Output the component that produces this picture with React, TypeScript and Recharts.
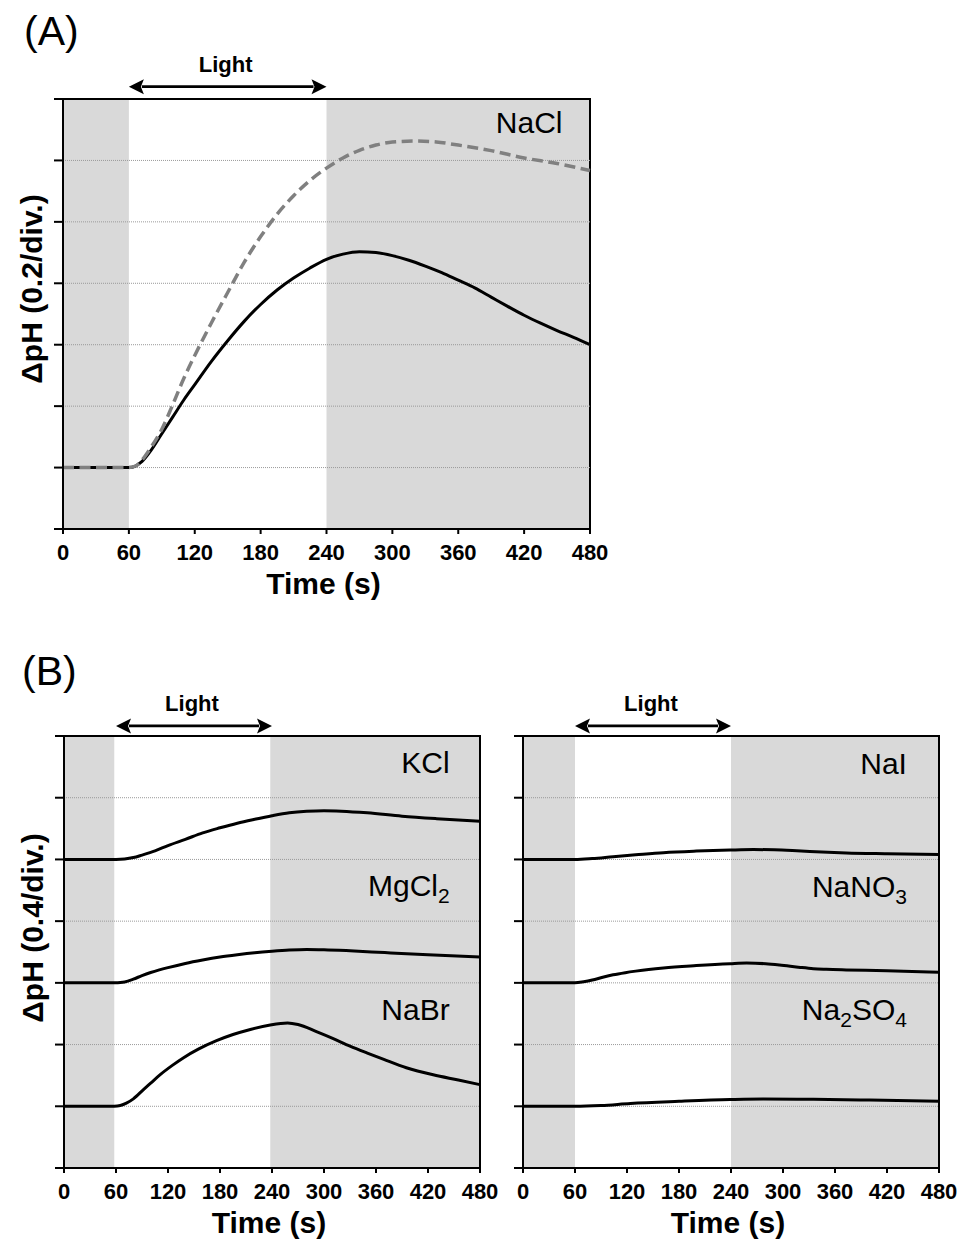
import React from 'react';
import {
  LineChart,
  Line,
  XAxis,
  YAxis,
  ReferenceArea,
  ReferenceLine,
  ReferenceDot,
} from 'recharts';

const FONT = '"Liberation Sans", Arial, Helvetica, sans-serif';

// ---------- shared axis values ----------
const timeTicks = [0, 60, 120, 180, 240, 300, 360, 420, 480];
const lightOn = 60;
const lightOff = 240;

// ---------- Panel A (0.2 pH / div) ----------
const aTicks = [-0.2, 0, 0.2, 0.4, 0.6, 0.8, 1.0, 1.2];

const naclSolidTime = [0, 30, 60, 66, 72, 80, 90, 100, 110, 120, 135, 150, 165, 180, 195, 210, 225, 240, 255, 270, 285, 300, 315, 330, 345, 360, 375, 390, 405, 420, 435, 450, 465, 480];
const naclSolidVal = [0, 0, 0, 0.005, 0.02, 0.055, 0.11, 0.165, 0.22, 0.27, 0.345, 0.413, 0.476, 0.531, 0.578, 0.617, 0.65, 0.678, 0.695, 0.703, 0.7, 0.69, 0.675, 0.656, 0.635, 0.61, 0.585, 0.555, 0.525, 0.496, 0.47, 0.446, 0.424, 0.4];

const naclDashTime = [0, 30, 60, 66, 72, 80, 90, 100, 110, 120, 135, 150, 165, 180, 195, 210, 225, 240, 255, 270, 285, 300, 320, 340, 360, 390, 420, 450, 480];
const naclDashVal = [0, 0, 0, 0.005, 0.025, 0.065, 0.125, 0.205, 0.29, 0.365, 0.47, 0.57, 0.668, 0.752, 0.825, 0.885, 0.935, 0.975, 1.008, 1.033, 1.05, 1.06, 1.063, 1.06, 1.05, 1.032, 1.008, 0.99, 0.967];

// ---------- Panel B (0.4 pH / div) ----------
const bTicks = [-0.4, 0, 0.4, 0.8, 1.2, 1.6, 2.0, 2.4];
const bOffsets = [1.6, 0.8, 0];

const kclTime = [0, 30, 60, 70, 80, 90, 105, 120, 140, 160, 180, 200, 220, 240, 260, 280, 300, 320, 350, 390, 430, 480];
const kclVal = [0, 0, 0, 0.003, 0.012, 0.028, 0.055, 0.09, 0.13, 0.172, 0.205, 0.235, 0.26, 0.283, 0.302, 0.312, 0.316, 0.313, 0.302, 0.28, 0.264, 0.248];

const mgcl2Time = [0, 30, 60, 65, 70, 80, 90, 100, 110, 120, 140, 160, 180, 200, 220, 240, 260, 280, 300, 330, 370, 420, 480];
const mgcl2Val = [0, 0, 0, 0.002, 0.006, 0.024, 0.047, 0.067, 0.084, 0.099, 0.126, 0.148, 0.167, 0.182, 0.195, 0.205, 0.213, 0.217, 0.215, 0.208, 0.196, 0.182, 0.168];

const nabrTime = [0, 30, 58, 65, 72, 80, 92, 100, 111, 125, 138, 155, 176, 195, 215, 238, 250, 258, 270, 292, 310, 330, 350, 369, 395, 426, 455, 480];
const nabrVal = [0, 0, 0, 0.005, 0.02, 0.048, 0.11, 0.15, 0.205, 0.265, 0.315, 0.37, 0.425, 0.465, 0.498, 0.527, 0.537, 0.54, 0.53, 0.482, 0.44, 0.39, 0.345, 0.304, 0.25, 0.204, 0.17, 0.14];

const naiTime = [0, 30, 60, 80, 104, 130, 162, 200, 239, 266, 290, 316, 345, 373, 420, 480];
const naiVal = [0, 0, 0, 0.006, 0.018, 0.03, 0.044, 0.054, 0.061, 0.064, 0.062, 0.056, 0.048, 0.042, 0.037, 0.032];

const nano3Time = [0, 30, 60, 70, 80, 92, 104, 118, 130, 145, 162, 200, 239, 258, 280, 296, 320, 335, 350, 373, 420, 480];
const nano3Val = [0, 0, 0, 0.007, 0.018, 0.036, 0.052, 0.066, 0.076, 0.087, 0.097, 0.112, 0.124, 0.128, 0.124, 0.116, 0.1, 0.092, 0.088, 0.084, 0.078, 0.068];

const na2so4Time = [0, 30, 60, 90, 124, 180, 239, 277, 335, 400, 480];
const na2so4Val = [0, 0, 0, 0.005, 0.018, 0.032, 0.044, 0.048, 0.045, 0.04, 0.033];

const mk = (ts: number[], vs: number[], off = 0) =>
  ts.map((t, i) => ({ t, v: vs[i] + off }));

type Part = { text: string; sub?: boolean };
type SeriesDef = { data: { t: number; v: number }[]; stroke: string; width: number; dash?: string };
type LabelDef = { x: number; y: number; parts: Part[] };

const gridStyle = { stroke: '#9a9a9a', strokeWidth: 1, strokeDasharray: '1 1' };
const GRAY = '#d9d9d9';

function saltLabel(parts: Part[]) {
  return (p: any) => {
    let prevSub = false;
    return (
      <text x={p.cx} y={p.cy} textAnchor="end" fontSize={30} fontFamily={FONT} fill="#000">
        {parts.map((part, i) => {
          let dy = 0;
          if (part.sub) dy = 7;
          else if (prevSub) dy = -7;
          prevSub = !!part.sub;
          return (
            <tspan key={i} dy={dy} fontSize={part.sub ? 21 : 30}>
              {part.text}
            </tspan>
          );
        })}
      </text>
    );
  };
}

const arrowShape = (p: any) => {
  const { x1, y1, x2 } = p;
  const L = 15;
  const h = 7.5;
  return (
    <g>
      <line x1={x1 + L - 2} y1={y1} x2={x2 - L + 2} y2={y1} stroke="#000" strokeWidth={2.8} />
      <polygon points={`${x1},${y1} ${x1 + L},${y1 - h} ${x1 + L - 3},${y1} ${x1 + L},${y1 + h}`} fill="#000" />
      <polygon points={`${x2},${y1} ${x2 - L},${y1 - h} ${x2 - L + 3},${y1} ${x2 - L},${y1 + h}`} fill="#000" />
      <text
        x={(x1 + x2) / 2 - 2}
        y={y1 - 15}
        textAnchor="middle"
        fontSize={22}
        fontWeight="bold"
        fontFamily={FONT}
        fill="#000"
      >
        Light
      </text>
    </g>
  );
};

const emptyTick = () => <g />;

type PanelProps = {
  left: number;
  top: number;
  width: number;
  height: number;
  yAxisWidth: number;
  marginTop: number;
  marginRight: number;
  xAxisHeight: number;
  yTicks: number[];
  arrowY: number;
  lightStart: number;
  lightEnd: number;
  series: SeriesDef[];
  labels: LabelDef[];
  yLabel?: string;
  yLabelX?: number;
  yLabelShift?: number;
};

function Panel(props: PanelProps) {
  const {
    left, top, width, height, yAxisWidth, marginTop, marginRight, xAxisHeight,
    yTicks, arrowY, lightStart, lightEnd, series, labels, yLabel, yLabelX = 31, yLabelShift = 0,
  } = props;
  const yMin = yTicks[0];
  const yMax = yTicks[yTicks.length - 1];
  const interior = yTicks.slice(1, yTicks.length - 1);
  const tickStyle = { fill: '#000', fontSize: 22, fontWeight: 'bold', fontFamily: FONT };

  const yLabelRender = (lp: any) => {
    const vb = lp.viewBox || {};
    const cy = vb.y + vb.height / 2 + yLabelShift;
    return (
      <text
        x={yLabelX}
        y={cy}
        transform={`rotate(-90 ${yLabelX} ${cy})`}
        textAnchor="middle"
        dominantBaseline="central"
        fontSize={30}
        fontWeight="bold"
        fontFamily={FONT}
        fill="#000"
      >
        {yLabel}
      </text>
    );
  };

  const xLabelRender = (lp: any) => {
    const vb = lp.viewBox || {};
    return (
      <text
        x={vb.x + vb.width / 2 - 3}
        y={vb.y + 65}
        textAnchor="middle"
        fontSize={30}
        fontWeight="bold"
        fontFamily={FONT}
        fill="#000"
      >
        Time (s)
      </text>
    );
  };

  return (
    <div style={{ position: 'absolute', left, top, width, height }}>
      <LineChart
        width={width}
        height={height}
        margin={{ top: marginTop, right: marginRight, bottom: 0, left: 0 }}
      >
        <XAxis
          dataKey="t"
          type="number"
          domain={[0, 480]}
          ticks={timeTicks}
          interval={0}
          height={xAxisHeight}
          tickSize={5}
          tickMargin={10}
          tick={tickStyle}
          axisLine={{ stroke: '#000', strokeWidth: 2 }}
          tickLine={{ stroke: '#000', strokeWidth: 2 }}
          label={xLabelRender}
        />
        <YAxis
          type="number"
          domain={[yMin, yMax]}
          ticks={yTicks}
          interval={0}
          width={yAxisWidth}
          tickSize={9}
          tick={emptyTick}
          axisLine={{ stroke: '#000', strokeWidth: 2 }}
          tickLine={{ stroke: '#000', strokeWidth: 2 }}
          label={yLabel ? yLabelRender : undefined}
        />
        <ReferenceArea x1={0} x2={lightStart} y1={yMin} y2={yMax} fill={GRAY} fillOpacity={1} stroke="none" />
        <ReferenceArea x1={lightEnd} x2={480} y1={yMin} y2={yMax} fill={GRAY} fillOpacity={1} stroke="none" />
        {interior.map((y) => (
          <ReferenceLine key={`g${y}`} y={y} {...gridStyle} />
        ))}
        <ReferenceArea x1={0} x2={480} y1={yMin} y2={yMax} fill="none" stroke="#000" strokeWidth={2} />
        <ReferenceLine
          segment={[{ x: lightOn, y: arrowY }, { x: lightOff, y: arrowY }]}
          ifOverflow="visible"
          shape={arrowShape}
        />
        {labels.map((lb, i) => (
          <ReferenceDot key={`l${i}`} x={lb.x} y={lb.y} r={1} shape={saltLabel(lb.parts)} />
        ))}
        {series.map((s, i) => (
          <Line
            key={`s${i}`}
            data={s.data}
            dataKey="v"
            type="monotone"
            stroke={s.stroke}
            strokeWidth={s.width}
            strokeDasharray={s.dash}
            dot={false}
            activeDot={false}
            isAnimationActive={false}
          />
        ))}
      </LineChart>
    </div>
  );
}

export default function App() {
  const seriesA: SeriesDef[] = [
    { data: mk(naclSolidTime, naclSolidVal), stroke: '#000', width: 3 },
    { data: mk(naclDashTime, naclDashVal), stroke: '#808080', width: 3.5, dash: '11 5.5' },
  ];
  const seriesBL: SeriesDef[] = [
    { data: mk(kclTime, kclVal, bOffsets[0]), stroke: '#000', width: 3 },
    { data: mk(mgcl2Time, mgcl2Val, bOffsets[1]), stroke: '#000', width: 3 },
    { data: mk(nabrTime, nabrVal, bOffsets[2]), stroke: '#000', width: 3 },
  ];
  const seriesBR: SeriesDef[] = [
    { data: mk(naiTime, naiVal, bOffsets[0]), stroke: '#000', width: 3 },
    { data: mk(nano3Time, nano3Val, bOffsets[1]), stroke: '#000', width: 3 },
    { data: mk(na2so4Time, na2so4Val, bOffsets[2]), stroke: '#000', width: 3 },
  ];
  const labelsA: LabelDef[] = [{ x: 455, y: 1.089, parts: [{ text: 'NaCl' }] }];
  const labelsBL: LabelDef[] = [
    { x: 445, y: 2.16, parts: [{ text: 'KCl' }] },
    { x: 445, y: 1.36, parts: [{ text: 'MgCl' }, { text: '2', sub: true }] },
    { x: 445, y: 0.56, parts: [{ text: 'NaBr' }] },
  ];
  const labelsBR: LabelDef[] = [
    { x: 443, y: 2.155, parts: [{ text: 'NaI' }] },
    { x: 443, y: 1.355, parts: [{ text: 'NaNO' }, { text: '3', sub: true }] },
    { x: 443, y: 0.56, parts: [{ text: 'Na' }, { text: '2', sub: true }, { text: 'SO' }, { text: '4', sub: true }] },
  ];

  return (
    <div
      style={{
        position: 'absolute',
        left: 0,
        top: 0,
        width: 963,
        height: 1241,
        background: '#fff',
        fontFamily: FONT,
        overflow: 'hidden',
      }}
    >
      <svg width={963} height={1241} style={{ position: 'absolute', left: 0, top: 0 }}>
        <text x={24} y={45} fontSize={41} fontFamily={FONT} fill="#000">(A)</text>
        <text x={22} y={685} fontSize={41} fontFamily={FONT} fill="#000">(B)</text>
      </svg>
      <Panel
        left={0}
        top={0}
        width={640}
        height={620}
        yAxisWidth={63}
        marginTop={99}
        marginRight={50}
        xAxisHeight={91}
        yTicks={aTicks}
        arrowY={1.24}
        lightStart={60}
        lightEnd={240}
        series={seriesA}
        labels={labelsA}
        yLabel="ΔpH (0.2/div.)"
        yLabelX={31}
        yLabelShift={-25}
      />
      <Panel
        left={0}
        top={640}
        width={500}
        height={600}
        yAxisWidth={64}
        marginTop={96}
        marginRight={20}
        xAxisHeight={72}
        yTicks={bTicks}
        arrowY={2.465}
        lightStart={58}
        lightEnd={238}
        series={seriesBL}
        labels={labelsBL}
        yLabel="ΔpH (0.4/div.)"
        yLabelX={32}
        yLabelShift={-24}
      />
      <Panel
        left={480}
        top={640}
        width={483}
        height={600}
        yAxisWidth={43}
        marginTop={96}
        marginRight={24}
        xAxisHeight={72}
        yTicks={bTicks}
        arrowY={2.465}
        lightStart={60}
        lightEnd={240}
        series={seriesBR}
        labels={labelsBR}
      />
    </div>
  );
}
